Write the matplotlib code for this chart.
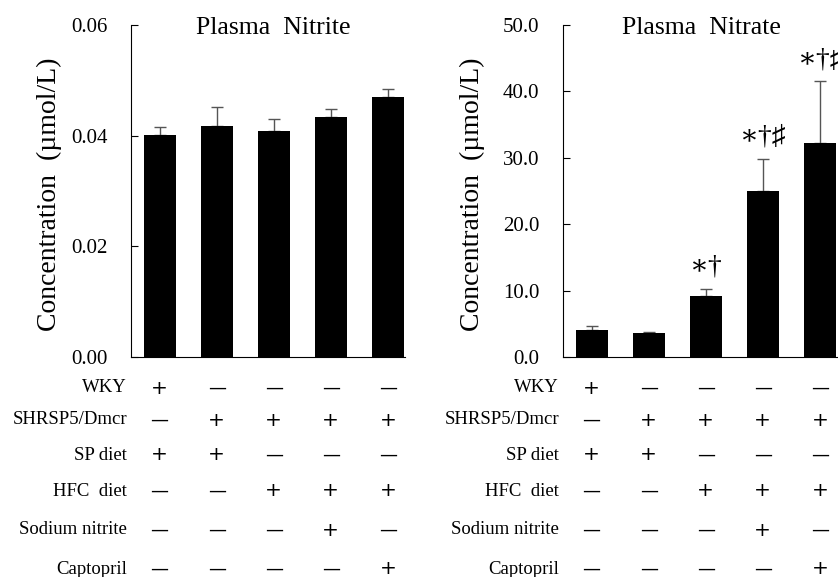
import matplotlib
matplotlib.use("Agg")
import matplotlib.pyplot as plt
import matplotlib.transforms as mtransforms

# data
groups = [0, 1, 2, 3, 4]
nitrite_mean = [0.0401, 0.0418, 0.0409, 0.0434, 0.0469]
nitrite_sd = [0.0014, 0.0033, 0.0021, 0.0015, 0.0016]
nitrate_mean = [4.1, 3.6, 9.2, 25.0, 32.3]
nitrate_sd = [0.5, 0.1, 1.1, 4.8, 9.2]
nitrate_marks = ["", "", "∗†", "∗†♯", "∗†♯"]

row_labels = ["WKY", "SHRSP5/Dmcr", "SP diet", "HFC  diet", "Sodium nitrite", "Captopril"]
conditions = [
    [1, 0, 0, 0, 0],
    [0, 1, 1, 1, 1],
    [1, 1, 0, 0, 0],
    [0, 0, 1, 1, 1],
    [0, 0, 0, 1, 0],
    [0, 0, 0, 0, 1],
]

SERIF = ["Liberation Serif", "DejaVu Serif", "DejaVu Sans"]
W, H = 838, 577
fig = plt.figure(figsize=(W / 100, H / 100), dpi=100)


def px_axes(x0, y0, x1, y1):
    return fig.add_axes([x0 / W, 1 - y1 / H, (x1 - x0) / W, (y1 - y0) / H])


def panel(ax, means, sds, title, ymax, ticks, fmt, title_x):
    ax.bar(groups, means, width=0.56, color="black", zorder=2)
    ax.errorbar(groups, means, yerr=[[0] * len(sds), sds], fmt="none",
                ecolor="#555555", elinewidth=1.0, capsize=4, capthick=1.0, zorder=1)
    ax.set_xlim(-0.5, 4.3)
    ax.set_ylim(0, ymax)
    ax.set_yticks(ticks)
    ax.set_yticklabels([fmt % t for t in ticks], fontfamily=SERIF, fontsize=15)
    ax.tick_params(axis="y", direction="in", length=5, pad=17)
    ax.set_xticks([])
    for s in ["top", "right"]:
        ax.spines[s].set_visible(False)
    ax.set_ylabel("Concentration  (µmol/L)", fontfamily=SERIF, fontsize=20)
    ax.yaxis.label.set_va("center")
    ax.text(title_x, 0.99, title, transform=ax.transAxes, ha="center", va="center",
            fontfamily=SERIF, fontsize=18.5)

    tr = mtransforms.blended_transform_factory(ax.transData, fig.transFigure)
    return tr


ax1 = px_axes(131, 25, 405, 357)
tr1 = panel(ax1, nitrite_mean, nitrite_sd, "Plasma  Nitrite", 0.06,
            [0, 0.02, 0.04, 0.06], "%.2f", 0.52)
ax1.yaxis.set_label_coords(-0.296, 0.49)

ax2 = px_axes(563, 25, 837, 357)
tr2 = panel(ax2, nitrate_mean, nitrate_sd, "Plasma  Nitrate", 50,
            [0, 10, 20, 30, 40, 50], "%.1f", 0.507)
ax2.yaxis.set_label_coords(-0.332, 0.49)

for g, m, s, lab in zip(groups, nitrate_mean, nitrate_sd, nitrate_marks):
    if lab:
        ax2.text(g, m + s + 1.4, lab, ha="center", va="bottom", fontsize=20,
                 fontfamily=SERIF, clip_on=False)

row_y = [388, 420, 455, 491, 530, 569]
for tr in (tr1, tr2):
    for lab, yy, cond in zip(row_labels, row_y, conditions):
        yf = 1 - yy / H
        fig.text(-0.57, yf, lab, transform=tr, ha="right", va="center",
                 fontfamily=SERIF, fontsize=13.5)
        for g, c in zip(groups, cond):
            if c:
                fig.text(g, yf, "+", transform=tr, ha="center", va="center",
                         fontfamily="DejaVu Sans", fontsize=14.5)
            else:
                fig.text(g, yf, "—", transform=tr, ha="center", va="center",
                         fontfamily="DejaVu Sans", fontsize=13)

fig.savefig("out.png", dpi=100)
